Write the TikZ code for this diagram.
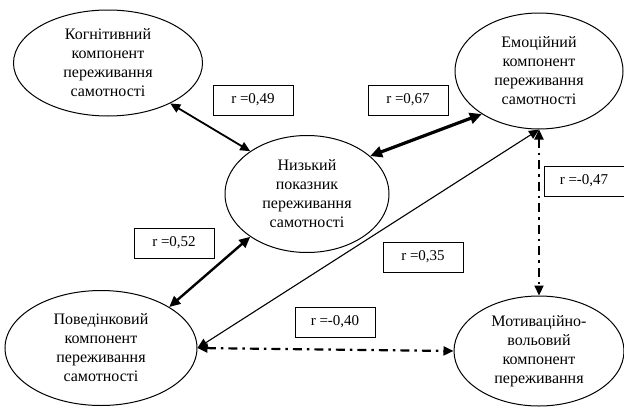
\documentclass[tikz,border=0pt]{standalone}
\usepackage{fontspec}
\setmainfont{Liberation Serif}
\usetikzlibrary{shapes.geometric,arrows.meta}
\begin{document}
\begin{tikzpicture}[x=1pt,y=-1pt,
  ell/.style={draw,ellipse,line width=1pt,inner sep=0pt,align=center,
    font=\fontsize{16}{19}\selectfont},
  rbox/.style={draw,line width=1pt,minimum width=80pt,minimum height=30pt,inner sep=0pt,
    font=\fontsize{15}{18}\selectfont},
  arr/.style={{Triangle[length=10pt,width=9pt]}-{Triangle[length=10pt,width=9pt]}},
  dd/.style={arr,line width=2.2pt,dash pattern=on 9pt off 5pt on 2.5pt off 5pt}
]
\useasboundingbox (0,0) rectangle (624,407);
\node[ell,minimum width=189pt,minimum height=106pt] (kog) at (108,63) {Когнітивний\\компонент\\переживання\\самотності};
\node[ell,minimum width=168pt,minimum height=116pt] (emo) at (539,71) {Емоційний\\компонент\\переживання\\самотності};
\node[ell,minimum width=164pt,minimum height=117pt] (niz) at (307,194) {Низький\\показник\\переживання\\самотності};
\node[ell,minimum width=192pt,minimum height=115pt] (pov) at (101,348) {Поведінковий\\компонент\\переживання\\самотності};
\node[ell,minimum width=170pt,minimum height=110pt] (mot) at (539,351) {Мотиваційно-\\вольовий\\компонент\\переживання};

\node[rbox] (b1) at (253,100) {r =0,49};
\node[rbox] (b2) at (408,100) {r =0,67};
\node[rbox] (b3) at (584,181) {r =-0,47};
\node[rbox] (b4) at (174,243) {r =0,52};
\node[rbox] (b5) at (423,257) {r =0,35};
\node[rbox] (b6) at (335,322) {r =-0,40};

\draw[arr,line width=1.8pt] (kog.-33) -- (niz.143);
\draw[{Triangle[length=12pt,width=11pt]}-{Triangle[length=12pt,width=11pt]},line width=3.2pt] (niz.31) -- (emo.217);
\draw[{Triangle[length=11pt,width=10pt]}-{Triangle[length=11pt,width=10pt]},line width=2.4pt] (niz.217) -- (pov.31);
\draw[arr,line width=1.1pt] (pov.east) -- (emo.south);
\draw[dd] (emo.south) -- (mot.north);
\draw[dd] (pov.east) -- (mot.west);
\end{tikzpicture}
\end{document}
